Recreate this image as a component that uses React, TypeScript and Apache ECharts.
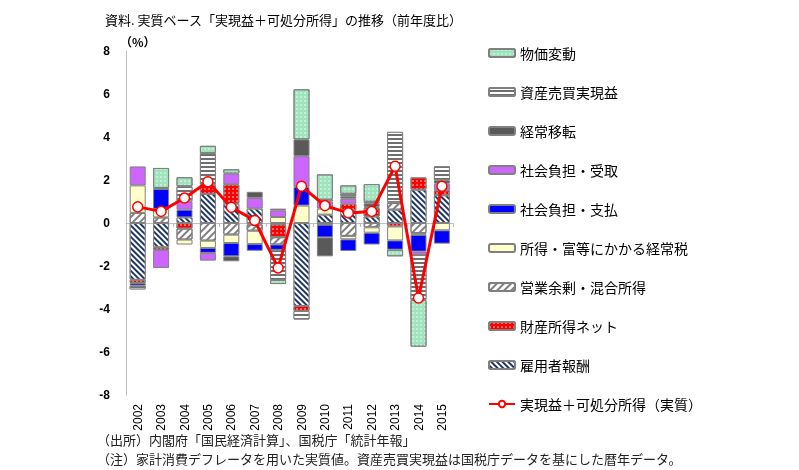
import React, { useEffect, useRef } from "react";
import * as echarts from "echarts";

const years = ["2002","2003","2004","2005","2006","2007","2008","2009","2010","2011","2012","2013","2014","2015"];
const yTicks = [-8, 8, 2]; // min, max, interval

// stacked components (percent points)
const compensation = [-2.64, -1.13, 0.26, 1.35, 0.9, 0.67, -0.06, -3.86, 0.39, 0.59, 0.3, 0.62, 1.55, 1.29];
const propertyIncome = [-0.15, -0.12, -0.26, 0.43, 0.9, -0.07, -0.6, -0.23, -0.08, 0.31, 0.4, -0.16, 0.57, 0.23];
const operatingSurplus = [0.47, 0.26, -0.51, -0.82, -0.54, -0.29, -0.34, 0, 0, -0.6, -0.2, 0.31, -0.47, 0];
const incomeTax = [1.28, 0.39, -0.23, -0.34, -0.39, -0.62, 0.28, 0.81, 0.28, -0.16, -0.25, -0.65, -0.08, -0.34];
const socialPaid = [-0.12, 0.93, 0.36, -0.23, -0.62, -0.31, -0.25, 0.87, -0.59, -0.54, -0.55, -0.43, -0.78, -0.62];
const socialReceived = [0.88, -0.84, 0.39, -0.36, 0.5, 0.5, 0.31, 1.43, 0.33, 0.23, 0.05, 0.05, -0.16, 0.31];
const currentTransfers = [0, 0.05, 0, 0, -0.23, 0.28, 0.08, 0.78, -0.88, 0.11, 0.16, 0, 0, 0.16];
const capitalGains = [-0.18, 0, 0.7, 1.47, 0, 0, -1.4, -0.4, 0.08, 0.12, 0.08, 3.26, -2.09, 0.65];
const priceChange = [0, 0.93, 0.42, 0.34, 0.2, 0, -0.19, 2.33, 1.18, 0.39, 0.82, -0.31, -2.17, 0];
const realIncome = [0.75, 0.54, 1.16, 1.92, 0.73, 0.12, -2.09, 1.71, 0.81, 0.47, 0.54, 2.64, -3.49, 1.71];

const barDefs = [
  { name: "雇用者報酬", data: compensation, color: "#1f3864",
    decal: { symbol: "rect", symbolSize: 1, color: "#ffffff", dashArrayX: [1, 0], dashArrayY: [2, 2], rotation: Math.PI / 4 } },
  { name: "財産所得ネット", data: propertyIncome, color: "#ff0000",
    decal: { symbol: "circle", symbolSize: 0.7, color: "#ffffff", dashArrayX: [2, 2], dashArrayY: [2, 2] } },
  { name: "営業余剰・混合所得", data: operatingSurplus, color: "#ffffff",
    decal: { symbol: "rect", symbolSize: 1, color: "#7f7f7f", dashArrayX: [1, 0], dashArrayY: [1.5, 2.5], rotation: -Math.PI / 4 } },
  { name: "所得・富等にかかる経常税", data: incomeTax, color: "#ffffcc", decal: null },
  { name: "社会負担・支払", data: socialPaid, color: "#0000ff", decal: null },
  { name: "社会負担・受取", data: socialReceived, color: "#cc66ff", decal: null },
  { name: "経常移転", data: currentTransfers, color: "#595959", decal: null },
  { name: "資産売買実現益", data: capitalGains, color: "#6f6f6f",
    decal: { symbol: "rect", symbolSize: 1, color: "#ffffff", dashArrayX: [1, 0], dashArrayY: [1.5, 1.5], rotation: 0 } },
  { name: "物価変動", data: priceChange, color: "#9fe3bd",
    decal: { symbol: "circle", symbolSize: 0.7, color: "#ffffff", dashArrayX: [1.5, 1.5], dashArrayY: [1.5, 1.5] } },
];
const lineName = "実現益＋可処分所得（実質）";

export default function App() {
  const ref = useRef<HTMLDivElement>(null);
  useEffect(() => {
    if (!ref.current) return;
    const chart = echarts.init(ref.current, null, { renderer: "svg" });
    const font = "'Noto Sans CJK JP', 'Liberation Sans', sans-serif";
    const barSeries = barDefs.map((d) => ({
      type: "bar",
      name: d.name,
      stack: "total",
      barWidth: 16,
      data: d.data.map((v) => (v === 0 ? null : v)),
      itemStyle: { color: d.color, borderColor: "#808080", borderWidth: 1, decal: d.decal || undefined },
    }));
    const legendData = [...barDefs.map((d) => d.name).reverse(), lineName];
    chart.setOption({
      animation: false,
      textStyle: { fontFamily: font },
      title: {
        text: "資料. 実質ベース「実現益＋可処分所得」の推移（前年度比）",
        left: 100, top: 8,
        textStyle: { fontSize: 13, fontWeight: "normal", color: "#000", fontFamily: font },
      },
      legend: {
        orient: "vertical", left: 483, top: 40,
        itemWidth: 26, itemHeight: 8, itemGap: 23,
        data: legendData,
        textStyle: { fontSize: 14, color: "#000", lineHeight: 16, fontFamily: font },
      },
      grid: { left: 126, top: 51, width: 327.6, height: 344 },
      xAxis: [
        {
          type: "category", data: years,
          axisLine: { onZero: true, lineStyle: { color: "#bfbfbf", width: 1 } },
          axisTick: { show: true, length: 4, lineStyle: { color: "#bfbfbf" } },
          axisLabel: { show: false },
        },
        {
          type: "category", data: years, position: "bottom",
          axisLine: { show: false, onZero: false },
          axisTick: { show: false },
          axisLabel: { rotate: 90, fontSize: 12, color: "#000", margin: 9, fontFamily: "'Liberation Sans', Arial" },
        },
      ],
      yAxis: {
        type: "value", min: yTicks[0], max: yTicks[1], interval: yTicks[2],
        axisLine: { show: true, lineStyle: { color: "#bfbfbf" } },
        axisTick: { show: false },
        splitLine: { show: false },
        axisLabel: { fontSize: 12, color: "#000", margin: 16, fontWeight: "bold", fontFamily: "'Liberation Sans', Arial" },
      },
      graphic: [
        { type: "text", left: 120, top: 35, style: { text: "（%）", fontSize: 12, fontWeight: "bold", fill: "#000", fontFamily: font } },
        { type: "text", left: 97, top: 431, style: { text: "（出所）内閣府「国民経済計算」、国税庁「統計年報」", fontSize: 13, lineHeight: 16, fill: "#222", fontFamily: font } },
        { type: "text", left: 97, top: 450, style: { text: "（注）家計消費デフレータを用いた実質値。資産売買実現益は国税庁データを基にした暦年データ。", fontSize: 13, lineHeight: 16, fill: "#222", fontFamily: font } },
      ],
      series: [
        ...barSeries,
        {
          type: "line", name: lineName, data: realIncome, z: 10,
          symbol: "circle", symbolSize: 10,
          lineStyle: { color: "#ff0000", width: 3 },
          itemStyle: { color: "#ffffff", borderColor: "#ff0000", borderWidth: 1.5 },
        },
      ],
    });
    return () => chart.dispose();
  }, []);
  return <div ref={ref} style={{ position: "fixed", left: 0, top: 0, width: 799, height: 470 }} />;
}
